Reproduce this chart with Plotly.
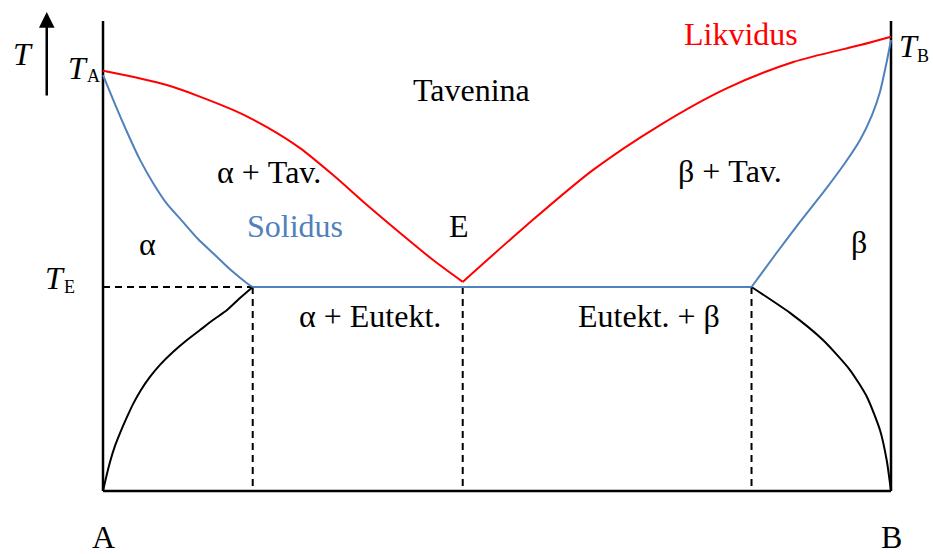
import plotly.graph_objects as go

# Binary eutectic phase diagram A-B
# composition in % B (0..100), temperature in arbitrary units (T_E = 100)

liq_left_x = [0, 8.1, 16.5, 20.8, 25.0, 29.2, 33.5, 37.7, 41.9, 45.65]
liq_left_t = [206.0, 199.0, 186.8, 178.4, 168.1, 154.9, 140.2, 126.5, 113.2, 102.5]

liq_right_x = [45.65, 53.8, 62.2, 70.7, 79.2, 87.6, 96.1, 100]
liq_right_t = [102.5, 130.4, 157.4, 179.4, 197.5, 210.3, 218.6, 222.7]

sol_left_x = [0, 1.52, 3.05, 4.70, 6.35, 8.12, 10.03, 12.06, 14.21, 16.37, 18.40, 19.0]
sol_left_t = [203.9, 189.7, 176.0, 162.3, 151.0, 140.7, 132.4, 123.5, 115.7, 107.8, 101.5, 100]

eut_x = [19.0, 82.3]
eut_t = [100, 100]

sol_right_x = [82.3, 85.28, 88.45, 91.62, 94.16, 96.07, 97.59, 98.60, 99.37, 100]
sol_right_t = [100, 115.7, 131.9, 147.5, 160.8, 172.1, 184.3, 195.6, 208.8, 221.1]

solv_left_x = [0, 0.38, 0.89, 1.52, 2.16, 3.05, 3.81, 4.82, 5.96, 7.23, 8.88,
               10.66, 12.31, 13.96, 15.74, 17.39, 19.0]
solv_left_t = [0, 6.4, 14.2, 22.1, 28.4, 36.3, 42.6, 49.5, 55.9, 61.8, 68.1,
               74.0, 78.9, 83.8, 88.7, 94.6, 100]

solv_right_x = [82.3, 87.18, 91.37, 94.8, 96.95, 98.6, 99.45, 100]
solv_right_t = [100, 87.3, 74.0, 59.3, 46.1, 29.9, 15.2, 0]

T_E = 100
T_TOP = 230.4
x_alpha_max = 19.0
x_eutectic = 45.65
x_beta_min = 82.3

RED = "#FF0000"
BLUE = "#4F81BD"
BLACK = "#000000"
FONT = "'Liberation Serif', 'Times New Roman', 'DejaVu Serif', serif"

fig = go.Figure()


def line(x, y, color, width=2, dash="solid", shape="spline", smoothing=0.6):
    fig.add_trace(go.Scatter(
        x=x, y=y, mode="lines", hoverinfo="skip", showlegend=False,
        line=dict(color=color, width=width, dash=dash, shape=shape, smoothing=smoothing),
    ))


# frame: pure-component verticals and the composition baseline
line([0, 0], [0, T_TOP], BLACK, 2.5, shape="linear")
line([100, 100], [0, T_TOP], BLACK, 2.5, shape="linear")
line([0, 100], [0, 0], BLACK, 2.5, shape="linear")

# dashed guides
line([0, x_alpha_max], [T_E, T_E], BLACK, 2, dash="7px,5px", shape="linear")
for xv in (x_alpha_max, x_eutectic, x_beta_min):
    line([xv, xv], [T_E, 0], BLACK, 2, dash="7px,5px", shape="linear")

# solvus curves
line(solv_left_x, solv_left_t, BLACK, 2)
line(solv_right_x, solv_right_t, BLACK, 2)

# solidus
line(sol_left_x, sol_left_t, BLUE, 2)
line(eut_x, eut_t, BLUE, 2, shape="linear")
line(sol_right_x, sol_right_t, BLUE, 2)

# liquidus
line(liq_left_x, liq_left_t, RED, 2, smoothing=0.8)
line(liq_right_x, liq_right_t, RED, 2, smoothing=0.8)


def label(x, y, text, size=32, color=BLACK, xanchor="center"):
    fig.add_annotation(x=x, y=y, text=text, showarrow=False,
                       xanchor=xanchor, yanchor="middle",
                       font=dict(family=FONT, size=size, color=color))


labels = [
    (80.96, 223.9, "Likvidus", 32, RED),
    (46.8, 196.5, "Tavenina", 32, BLACK),
    (21.1, 156.4, "α + Tav.", 32, BLACK),
    (24.4, 129.7, "Solidus", 32, BLUE),
    (45.2, 129.7, "E", 32, BLACK),
    (5.6, 121.0, "α", 32, BLACK),
    (79.6, 156.9, "β + Tav.", 32, BLACK),
    (95.9, 122.2, "β", 32, BLACK),
    (33.9, 85.8, "α + Eutekt.", 32, BLACK),
    (69.3, 85.8, "Eutekt. + β", 32, BLACK),
    (0.0, -22.6, "A", 32, BLACK),
    (100.0, -22.6, "B", 32, BLACK),
    (-10.2, 214.1, "<i>T</i>", 32, BLACK),
    (-3.2, 207.6, "<i>T</i>", 32, BLACK),
    (-1.25, 203.4, "A", 18, BLACK),
    (102.3, 217.9, "<i>T</i>", 32, BLACK),
    (104.0, 213.2, "B", 18, BLACK),
    (-6.1, 104.2, "<i>T</i>", 32, BLACK),
    (-4.25, 100.0, "E", 18, BLACK),
]
for lx, ly, txt, sz, col in labels:
    label(lx, ly, txt, sz, col)

# temperature arrow
fig.add_annotation(x=-7.14, y=234.8, ax=-7.14, ay=193.1, axref="x", ayref="y",
                   xref="x", yref="y", text="", showarrow=True,
                   arrowhead=2, arrowsize=1.25, arrowwidth=2.5, arrowcolor=BLACK)

fig.update_layout(
    width=933, height=554,
    margin=dict(l=0, r=0, t=0, b=0),
    paper_bgcolor="white", plot_bgcolor="white",
    font=dict(family=FONT),
    xaxis=dict(range=[-13.071, 105.33], visible=False, fixedrange=True),
    yaxis=dict(range=[-30.88, 240.69], visible=False, fixedrange=True),
    showlegend=False,
)

fig.write_html("out.html")
